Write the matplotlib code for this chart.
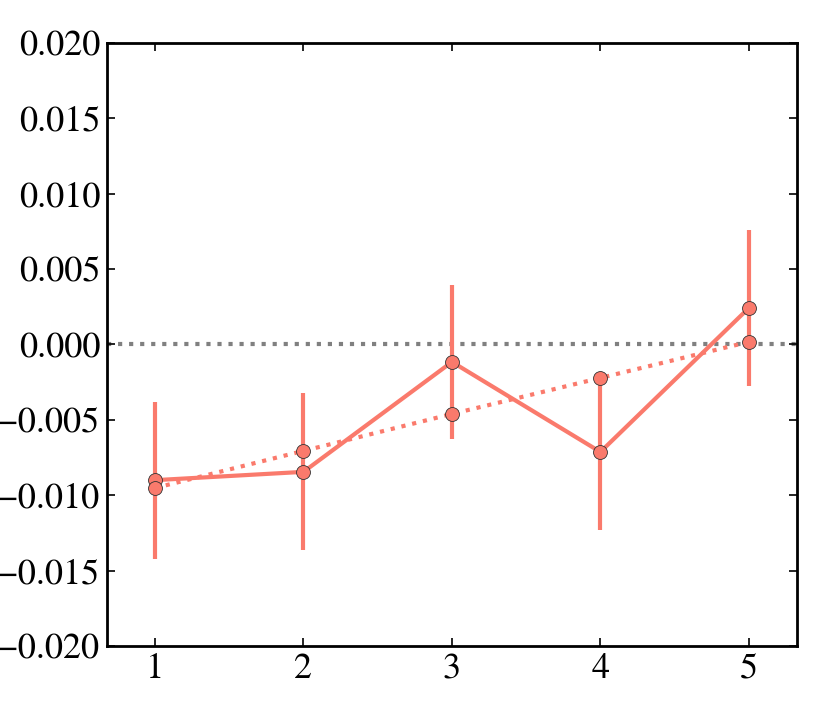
import numpy as np
import matplotlib
matplotlib.use('Agg')
import matplotlib.pyplot as plt

# values
x = [1, 2, 3, 4, 5]
solid_y = [-0.0090, -0.00845, -0.00116, -0.00713, 0.00242]
solid_err = [0.0052, 0.0052, 0.0051, 0.0052, 0.0052]
dotted_y = [-0.00952, -0.00706, -0.00461, -0.00222, 0.00017]

salmon = '#fa7a6c'

plt.rcParams['font.family'] = ['STIXGeneral', 'Liberation Serif', 'DejaVu Serif']

fig = plt.figure(figsize=(8.3, 7.27), dpi=100)
ax = fig.add_axes([0.129, 0.1114, 0.831, 0.8296])

ax.axhline(0, color='gray', ls=':', lw=3, zorder=1)

ax.errorbar(x, solid_y, yerr=solid_err, color=salmon, lw=3, elinewidth=3,
            capsize=0, marker='o', ms=10, mfc=salmon, mec='#333333', mew=0.6,
            zorder=2)
ax.plot(x, dotted_y, color=salmon, ls=':', lw=3, marker='o', ms=10,
        mfc=salmon, mec='#333333', mew=0.6, zorder=3)

ax.set_xlim(0.677, 5.323)
ax.set_ylim(-0.02, 0.02)
ax.set_xticks(x)
ax.set_yticks(np.arange(-0.02, 0.0201, 0.005))
ax.set_yticklabels(['\u22120.020', '\u22120.015', '\u22120.010', '\u22120.005',
                    '0.000', '0.005', '0.010', '0.015', '0.020'])

for s in ax.spines.values():
    s.set_linewidth(2)
ax.tick_params(direction='in', length=6, width=1.2, top=True, right=True,
               labelsize=26, pad=5)

fig.savefig('out.png', dpi=100)
